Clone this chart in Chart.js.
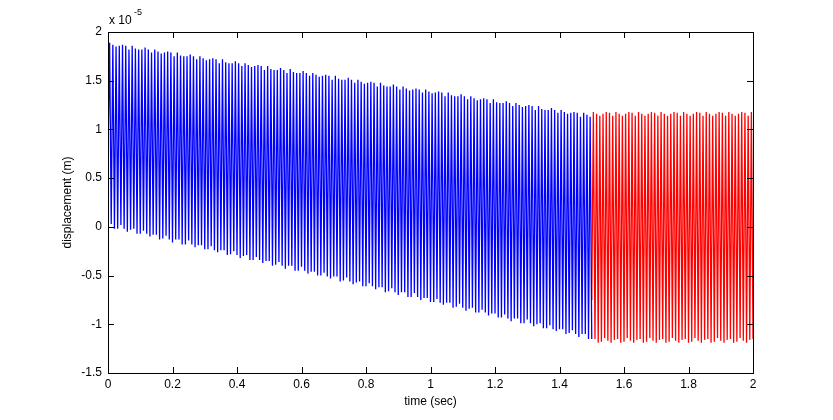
<!DOCTYPE html>
<html>
<head>
<meta charset="utf-8">
<script src="https://cdn.jsdelivr.net/npm/chart.js@4/dist/chart.umd.min.js"></script>
<style>
  body { margin: 0; background: #fff; }
  #wrap { width: 833px; height: 420px; }
</style>
</head>
<body>
<div id="wrap"><canvas id="grafico" width="833" height="420"></canvas></div>
<script>
// values are in units of 1e-5 m (axis shows "x 10^-5")
const xTicks = [0, 0.2, 0.4, 0.6, 0.8, 1, 1.2, 1.4, 1.6, 1.8, 2];
const xTickLabels = ['0', '0.2', '0.4', '0.6', '0.8', '1', '1.2', '1.4', '1.6', '1.8', '2'];
const yTicks = [-1.5, -1, -0.5, 0, 0.5, 1, 1.5, 2];
const yTickLabels = ['-1.5', '-1', '-0.5', '0', '0.5', '1', '1.5', '2'];

// half-cycle spacing of the samples (sec)
const halfStep = 0.005;

// blue part, 0 .. 1.5 sec: first sample, then peak / trough of each cycle
const blueStart = 0.75;
const blueTop = [
  1.89, 1.87, 1.85, 1.86, 1.87, 1.86, 1.82, 1.86, 1.83, 1.82,
  1.82, 1.84, 1.82, 1.79, 1.82, 1.80, 1.78, 1.79, 1.80, 1.79,
  1.75, 1.79, 1.76, 1.75, 1.75, 1.77, 1.75, 1.72, 1.75, 1.73,
  1.71, 1.72, 1.73, 1.72, 1.68, 1.72, 1.69, 1.68, 1.68, 1.70,
  1.68, 1.65, 1.68, 1.66, 1.64, 1.65, 1.66, 1.65, 1.61, 1.65,
  1.62, 1.61, 1.61, 1.63, 1.61, 1.58, 1.62, 1.59, 1.58, 1.58,
  1.60, 1.58, 1.55, 1.58, 1.56, 1.54, 1.55, 1.56, 1.55, 1.51,
  1.55, 1.52, 1.51, 1.51, 1.53, 1.51, 1.48, 1.51, 1.49, 1.47,
  1.48, 1.49, 1.48, 1.44, 1.48, 1.45, 1.44, 1.44, 1.46, 1.44,
  1.41, 1.44, 1.42, 1.40, 1.41, 1.42, 1.41, 1.38, 1.41, 1.39,
  1.37, 1.38, 1.39, 1.38, 1.34, 1.38, 1.35, 1.34, 1.34, 1.36,
  1.34, 1.31, 1.34, 1.32, 1.30, 1.31, 1.32, 1.31, 1.27, 1.31,
  1.28, 1.27, 1.27, 1.29, 1.27, 1.24, 1.27, 1.25, 1.23, 1.24,
  1.25, 1.24, 1.20, 1.24, 1.21, 1.20, 1.20, 1.22, 1.20, 1.17,
  1.20, 1.18, 1.16, 1.17, 1.18, 1.17, 1.13, 1.17, 1.15, 1.13
];
const blueBottom = [
  0.03, -0.02, -0.02, 0.02, -0.02, -0.05, -0.03, -0.02, -0.07, -0.07,
  -0.04, -0.07, -0.10, -0.08, -0.08, -0.13, -0.12, -0.09, -0.13, -0.16,
  -0.13, -0.13, -0.18, -0.18, -0.14, -0.18, -0.21, -0.19, -0.19, -0.23,
  -0.23, -0.20, -0.24, -0.26, -0.24, -0.24, -0.29, -0.28, -0.25, -0.29,
  -0.32, -0.30, -0.29, -0.34, -0.34, -0.31, -0.34, -0.37, -0.35, -0.35,
  -0.40, -0.39, -0.36, -0.40, -0.43, -0.40, -0.40, -0.45, -0.45, -0.41,
  -0.45, -0.48, -0.46, -0.46, -0.50, -0.50, -0.47, -0.51, -0.53, -0.51,
  -0.51, -0.56, -0.55, -0.52, -0.56, -0.59, -0.57, -0.56, -0.61, -0.61,
  -0.58, -0.61, -0.64, -0.62, -0.62, -0.67, -0.66, -0.63, -0.67, -0.70,
  -0.67, -0.67, -0.72, -0.72, -0.68, -0.72, -0.75, -0.73, -0.73, -0.77,
  -0.77, -0.74, -0.78, -0.80, -0.78, -0.78, -0.83, -0.82, -0.79, -0.83,
  -0.86, -0.84, -0.83, -0.88, -0.88, -0.85, -0.88, -0.91, -0.89, -0.89,
  -0.93, -0.93, -0.90, -0.94, -0.97, -0.94, -0.94, -0.99, -0.99, -0.95,
  -0.99, -1.02, -1.00, -0.99, -1.04, -1.04, -1.01, -1.05, -1.07, -1.05,
  -1.05, -1.10, -1.09, -1.06, -1.10, -1.13, -1.10, -1.10, -1.15, -1.15
];

// red part, 1.5 .. 2 sec
const redStartTime = 1.5;
const redStart = -0.75;
const redTop = [
  1.18, 1.16, 1.14, 1.16, 1.18, 1.17, 1.14, 1.18, 1.16, 1.14,
  1.16, 1.18, 1.17, 1.14, 1.18, 1.16, 1.14, 1.16, 1.18, 1.17,
  1.14, 1.18, 1.16, 1.14, 1.16, 1.18, 1.17, 1.14, 1.18, 1.16,
  1.14, 1.16, 1.18, 1.17, 1.14, 1.18, 1.16, 1.14, 1.16, 1.18,
  1.17, 1.14, 1.18, 1.16, 1.14, 1.16, 1.18, 1.17, 1.14, 1.18
];
const redBottom = [
  -1.15, -1.19, -1.18, -1.14, -1.17, -1.19, -1.16, -1.15, -1.19, -1.18,
  -1.14, -1.17, -1.19, -1.16, -1.15, -1.19, -1.18, -1.14, -1.17, -1.19,
  -1.16, -1.15, -1.19, -1.18, -1.14, -1.17, -1.19, -1.16, -1.15, -1.19,
  -1.18, -1.14, -1.17, -1.19, -1.16, -1.15, -1.19, -1.18, -1.14, -1.17,
  -1.19, -1.16, -1.15, -1.19, -1.18, -1.14, -1.17, -1.19, -1.16, -1.15
];

const FONTE = '"Liberation Sans", Arial, sans-serif';

function montarSerie(t0, inicio, topos, fundos) {
  const pts = [{ x: t0, y: inicio }];
  topos.forEach((v, k) => {
    pts.push({ x: t0 + (2 * k + 1) * halfStep, y: v });
    pts.push({ x: t0 + (2 * k + 2) * halfStep, y: fundos[k] });
  });
  return pts;
}

// Box, inward ticks, axis titles and the exponent, MATLAB style
const eixosMatlab = {
  id: 'eixosMatlab',
  afterDraw(chart) {
    const { ctx, chartArea: a, scales } = chart;
    ctx.save();
    ctx.strokeStyle = '#000';
    ctx.lineWidth = 1;
    ctx.strokeRect(a.left + 0.5, a.top + 0.5, a.right - a.left, a.bottom - a.top);
    ctx.beginPath();
    xTicks.forEach(v => {
      const px = Math.round(scales.x.getPixelForValue(v)) + 0.5;
      ctx.moveTo(px, a.bottom); ctx.lineTo(px, a.bottom - 6);
      ctx.moveTo(px, a.top); ctx.lineTo(px, a.top + 6);
    });
    yTicks.forEach(v => {
      const py = Math.round(scales.y.getPixelForValue(v)) + 0.5;
      ctx.moveTo(a.left, py); ctx.lineTo(a.left + 6, py);
      ctx.moveTo(a.right, py); ctx.lineTo(a.right - 6, py);
    });
    ctx.stroke();

    ctx.fillStyle = '#000';
    ctx.font = '12px ' + FONTE;
    ctx.textAlign = 'center';
    ctx.textBaseline = 'middle';
    ctx.fillText('time (sec)', (a.left + a.right) / 2, 402);
    ctx.save();
    ctx.translate(68, (a.top + a.bottom) / 2);
    ctx.rotate(-Math.PI / 2);
    ctx.fillText('displacement (m)', 0, 0);
    ctx.restore();

    ctx.textAlign = 'left';
    ctx.textBaseline = 'alphabetic';
    ctx.fillText('x 10', a.left + 1, 24);
    ctx.font = '9px ' + FONTE;
    ctx.fillText('-5', a.left + 26, 15);
    ctx.restore();
  }
};

new Chart(document.getElementById('grafico'), {
  type: 'line',
  data: {
    datasets: [
      { data: montarSerie(0, blueStart, blueTop, blueBottom), borderColor: '#0000ff', borderWidth: 1.3 },
      { data: montarSerie(redStartTime, redStart, redTop, redBottom), borderColor: '#ff0000', borderWidth: 1.3 }
    ]
  },
  options: {
    responsive: false,
    animation: false,
    events: [],
    elements: { point: { radius: 0 }, line: { tension: 0 } },
    layout: { padding: { top: 32, right: 80, left: 0, bottom: 0 } },
    plugins: { legend: { display: false }, tooltip: { enabled: false } },
    scales: {
      x: {
        type: 'linear', min: 0, max: 2,
        grid: { display: false, drawTicks: false },
        border: { display: false },
        afterBuildTicks: s => { s.ticks = xTicks.map(v => ({ value: v })); },
        afterFit: s => { s.height = 47; },
        ticks: {
          color: '#000', padding: 4, maxRotation: 0, autoSkip: false,
          font: { family: FONTE, size: 12 },
          callback: (v, i) => xTickLabels[i]
        }
      },
      y: {
        type: 'linear', min: -1.5, max: 2,
        grid: { display: false, drawTicks: false },
        border: { display: false },
        afterBuildTicks: s => { s.ticks = yTicks.map(v => ({ value: v })); },
        afterFit: s => { s.width = 108; },
        ticks: {
          color: '#000', padding: 6, autoSkip: false,
          font: { family: FONTE, size: 12 },
          callback: (v, i) => yTickLabels[i]
        }
      }
    }
  },
  plugins: [eixosMatlab]
});
</script>
</body>
</html>
